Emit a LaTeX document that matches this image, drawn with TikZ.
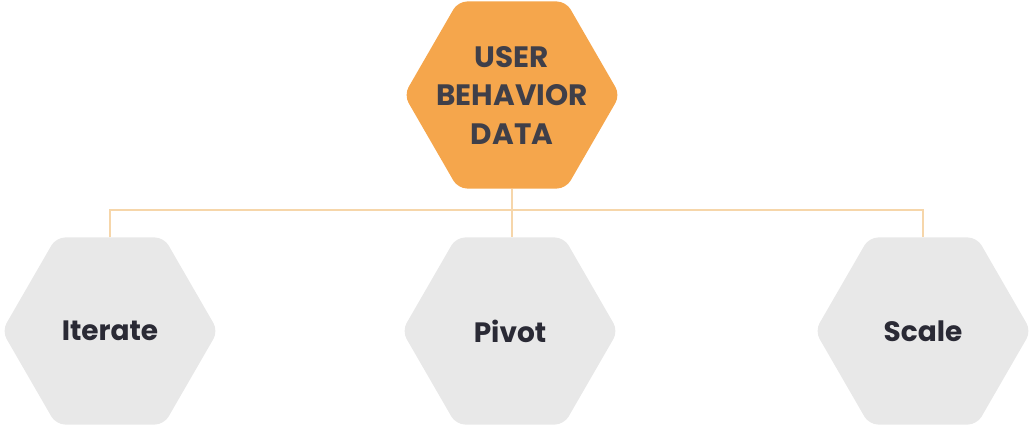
\documentclass[tikz,border=0pt]{standalone}
\usepackage{fontspec}
\setmainfont{Poppins}
\usetikzlibrary{shapes.geometric}
\definecolor{hexorange}{HTML}{F5A64C}
\definecolor{hexgray}{HTML}{E8E8E8}
\definecolor{linkpeach}{HTML}{F6D6AA}
\definecolor{inkdark}{HTML}{2A2A35}
\tikzset{
  hexa/.style={regular polygon, regular polygon sides=6, minimum size=216pt,
    inner sep=0pt, rounded corners=9pt, draw=none},
  hexlabel/.style={font=\bfseries\fontsize{28}{38}\selectfont, text=inkdark, align=center},
  link/.style={draw=linkpeach, line width=2pt}
}
\begin{document}
\begin{tikzpicture}[x=1pt, y=-1pt]
\useasboundingbox (0,0) rectangle (1034,440);

% the data hexagon on top
\node[hexa, fill=hexorange] (data) at (512,95) {};
\node[hexlabel, text=inkdark!90, font=\bfseries\fontsize{29.5}{38.5}\selectfont] (datatext) at (data.center) {USER\\BEHAVIOR\\DATA};

% the three outcomes
\node[hexa, fill=hexgray] (iter) at (110,331) {};
\node[hexlabel] (itertext) at (iter.center) {Iterate};

\node[hexa, fill=hexgray] (pivot) at (510,331) {};
\node[hexlabel] (pivottext) at (pivot.center) {Pivot};

\node[hexa, fill=hexgray] (scale) at (923,331) {};
\node[hexlabel] (scaletext) at (scale.center) {Scale};

% connectors
\coordinate (bar) at (512,210);
\draw[link] (data.south) -- (data.south |- pivot.north);
\draw[link] (iter.north) |- (bar) -| (scale.north);

\end{tikzpicture}
\end{document}
